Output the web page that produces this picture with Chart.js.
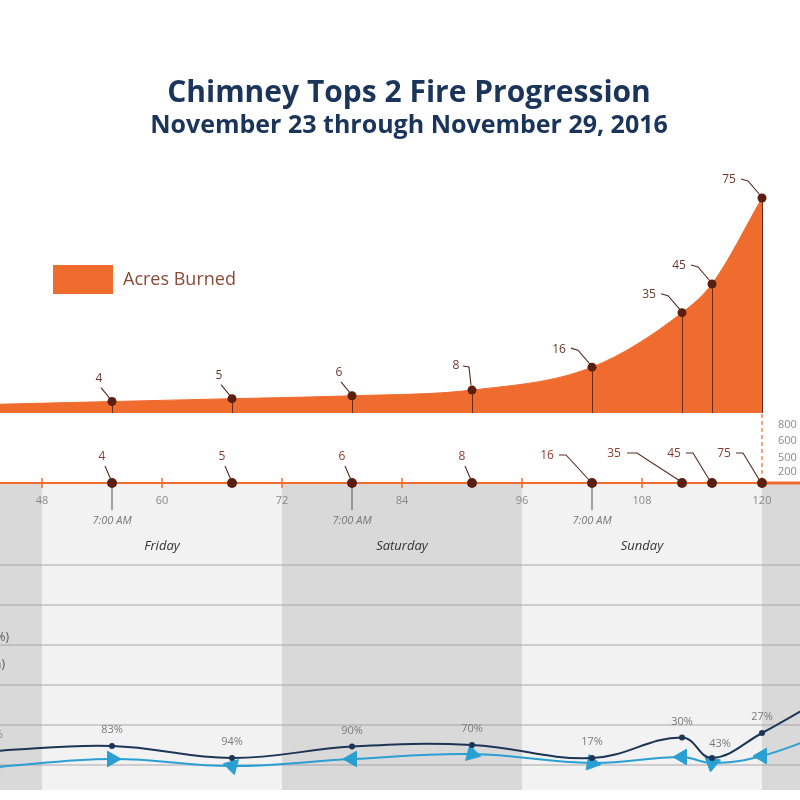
<!DOCTYPE html>
<html><head><meta charset="utf-8">
<script src="https://cdn.jsdelivr.net/npm/chart.js@4"></script>
<style>
html,body{margin:0;padding:0;background:#fff;}
#wrap{position:relative;width:800px;height:800px;overflow:hidden;}
#c{position:absolute;left:0;top:0;}
.t{position:absolute;left:0;width:818px;text-align:center;font-family:"Open Sans",sans-serif;font-weight:700;color:#1b355a;white-space:nowrap;line-height:1;}
</style></head><body>
<div id="wrap">
<canvas id="c" width="800" height="800"></canvas>
<div class="t" style="top:76px;font-size:30px">Chimney Tops 2 Fire Progression</div>
<div class="t" style="top:111px;font-size:25px">November 23 through November 29, 2016</div>
</div>
<script>
// ---- data ----
const fireHours   = [43, 55, 67, 79, 91, 103, 112, 115, 120];
const acresBurned = [3, 4, 5, 6, 8, 16, 35, 45, 75];
const sevenAmHours = [55, 79, 103];
const hourTicks = [48, 60, 72, 84, 96, 108, 120];
const dayBands = [24, 48, 72, 96, 120, 144];
const dayNames = ['Thursday', 'Friday', 'Saturday', 'Sunday', 'Monday'];
const weatherHours = [43, 55, 67, 79, 91, 103, 112, 115, 120, 127];
const upperLine = [13.5, 14.75, 11.75, 14.6, 15, 11.75, 16.9, 11.75, 18, 28];
const lowerLine = [9.4, 11.5, 9.75, 11.5, 12.75, 10.5, 12, 10.5, 12.25, 18.5];
const humidityLabels = ['65%', '83%', '94%', '90%', '70%', '17%', '30%', '43%', '27%', ''];
const windDirection = [90, 90, 165, 270, 105, 100, 270, 190, 270, 270];
const gridValues = [10, 20, 30, 40, 50, 60];
const rightAxisLabels = ['800', '600', '500', '200'];
const sideLabels = ['Relative Humidity (%)', 'Wind Speed (mph)'];

const ORANGE = '#ef6c2e';
const DOT = '#5a1f10';
const FONT = '"Open Sans", sans-serif';

const overlay = {
  id: 'overlay',
  beforeDatasetsDraw(chart) {
    const {ctx} = chart;
    const x = chart.scales.x, yT = chart.scales.yT, yB = chart.scales.yB, yA = chart.scales.yA;
    const tl = yT.getPixelForValue(0);
    ctx.save();
    // day bands
    for (let i = 0; i < dayBands.length - 1; i++) {
      const x0 = x.getPixelForValue(dayBands[i]), x1 = x.getPixelForValue(dayBands[i+1]);
      ctx.fillStyle = i % 2 === 0 ? '#d9d9d9' : '#f2f2f2';
      ctx.fillRect(x0, tl, x1 - x0, 790 - tl);
    }
    // grid lines
    ctx.strokeStyle = 'rgba(160,160,160,0.45)';
    ctx.lineWidth = 2;
    gridValues.forEach(v => {
      const y = Math.round(yB.getPixelForValue(v));
      ctx.beginPath(); ctx.moveTo(0, y); ctx.lineTo(800, y); ctx.stroke();
    });
    // day names
    ctx.fillStyle = '#333';
    ctx.font = 'italic 13px ' + FONT;
    ctx.textAlign = 'center'; ctx.textBaseline = 'middle';
    for (let i = 0; i < dayNames.length; i++) {
      const xc = x.getPixelForValue((dayBands[i] + dayBands[i+1]) / 2);
      ctx.fillText(dayNames[i], xc, 546);
    }
    // side labels (cut off)
    ctx.fillStyle = '#555'; ctx.font = '12px ' + FONT; ctx.textAlign = 'right';
    ctx.fillText(sideLabels[0], 9, 638);
    ctx.fillText(sideLabels[1], 5, 665);
    // timeline
    const xEnd = x.getPixelForValue(120);
    ctx.strokeStyle = ORANGE;
    ctx.lineWidth = 2;
    ctx.beginPath(); ctx.moveTo(0, tl); ctx.lineTo(xEnd, tl); ctx.stroke();
    ctx.lineWidth = 3;
    ctx.beginPath(); ctx.moveTo(xEnd, tl); ctx.lineTo(800, tl); ctx.stroke();
    ctx.lineWidth = 1.5;
    ctx.fillStyle = '#8a8a8a'; ctx.font = '11px ' + FONT; ctx.textAlign = 'center';
    hourTicks.forEach(h => {
      const px = x.getPixelForValue(h);
      ctx.beginPath(); ctx.moveTo(px, tl - 5); ctx.lineTo(px, tl + 5); ctx.stroke();
      ctx.fillText(String(h), px, tl + 18);
    });
    // dashed vertical line at end
    ctx.setLineDash([4, 3]); ctx.lineWidth = 1.2;
    ctx.beginPath(); ctx.moveTo(xEnd, yA.getPixelForValue(0) + 1); ctx.lineTo(xEnd, tl); ctx.stroke();
    ctx.setLineDash([]);
    ctx.textAlign = 'left';
    [425, 441, 458, 472].forEach((yy, i) => ctx.fillText(rightAxisLabels[i], xEnd + 16, yy));
    // 7:00 AM marks
    ctx.strokeStyle = '#555'; ctx.lineWidth = 1;
    ctx.fillStyle = '#777'; ctx.font = 'italic 11px ' + FONT; ctx.textAlign = 'center';
    sevenAmHours.forEach(h => {
      const px = x.getPixelForValue(h);
      ctx.beginPath(); ctx.moveTo(px, tl); ctx.lineTo(px, tl + 27); ctx.stroke();
      ctx.fillText('7:00 AM', px, tl + 38);
    });
    // legend
    ctx.fillStyle = ORANGE; ctx.fillRect(53, 265, 60, 29);
    ctx.fillStyle = '#8a4a36'; ctx.font = '18px ' + FONT; ctx.textAlign = 'left';
    ctx.fillText('Acres Burned', 123, 280);
    ctx.restore();
  },
  afterDatasetsDraw(chart) {
    const {ctx} = chart;
    const yA = chart.scales.yA;
    const base = yA.getPixelForValue(0);
    ctx.save();
    // drop lines in the area
    const areaMeta = chart.getDatasetMeta(0);
    ctx.strokeStyle = '#6a2a18'; ctx.lineWidth = 1;
    areaMeta.data.forEach((p, i) => {
      if (i === 0) return;
      ctx.beginPath(); ctx.moveTo(Math.round(p.x) + 0.5, p.y + 4); ctx.lineTo(Math.round(p.x) + 0.5, base); ctx.stroke();
    });
    // labels with leaders
    const drawLeader = (p, txt, style, color) => {
      let lx, ly, pts;
      if (style === 's') { lx = -13; ly = -23; pts = [[-11, -14], [-2, -3]]; }
      else if (style === 'v') { lx = -16; ly = -24; pts = [[-9, -24], [-3, -23], [-1, -5]]; }
      else if (style === 'h') { lx = -33; ly = -18; pts = [[-21, -19], [-14, -17], [-2, -3]]; }
      else if (style === 'ts') { lx = -10; ly = -26; pts = [[-7, -17], [-1, -3]]; }
      else if (style === 'th') { lx = -38; ly = -29; pts = [[-26, -30], [-19, -30], [-2, -2]]; }
      else if (style === 'th2') { lx = -45; ly = -27; pts = [[-33, -28], [-26, -28], [-2, -2]]; }
      else if (style === 'tl') { lx = -68; ly = -29; pts = [[-55, -30], [-45, -30], [-2, -2]]; }
      ctx.strokeStyle = '#5a2a1f'; ctx.lineWidth = 1.1;
      ctx.beginPath();
      pts.forEach((q, k) => { const fx = p.x + q[0], fy = p.y + q[1]; k ? ctx.lineTo(fx, fy) : ctx.moveTo(fx, fy); });
      ctx.stroke();
      ctx.fillStyle = color; ctx.font = '12px ' + FONT; ctx.textAlign = 'center'; ctx.textBaseline = 'middle';
      ctx.fillText(txt, p.x + lx, p.y + ly);
    };
    const topStyles = ['s', 's', 's', 's', 'v', 'h', 'h', 'h', 'h'];
    areaMeta.data.forEach((p, i) => drawLeader(p, String(acresBurned[i]), topStyles[i], '#6b3a2c'));
    const tlMeta = chart.getDatasetMeta(1);
    const tlStyles = ['ts', 'ts', 'ts', 'ts', 'ts', 'th2', 'tl', 'th', 'th'];
    tlMeta.data.forEach((p, i) => drawLeader(p, String(acresBurned[i]), tlStyles[i], '#8e3b2b'));
    // humidity labels
    const upMeta = chart.getDatasetMeta(2);
    ctx.fillStyle = '#7a7a7a'; ctx.font = '11px ' + FONT; ctx.textAlign = 'center'; ctx.textBaseline = 'middle';
    upMeta.data.forEach((p, i) => {
      const dx = humidityLabels[i] === '43%' ? 8 : 0;
      ctx.fillText(humidityLabels[i], p.x + dx, p.y - (dx ? 14 : 16));
    });
    ctx.restore();
  }
};

new Chart(document.getElementById('c'), {
  type: 'line',
  data: {
    datasets: [
      {
        label: 'Acres Burned', yAxisID: 'yA',
        data: fireHours.map((h, i) => ({x: h, y: acresBurned[i]})),
        fill: 'origin', backgroundColor: ORANGE, borderColor: ORANGE, borderWidth: 1,
        cubicInterpolationMode: 'monotone',
        pointRadius: 4.5, pointBackgroundColor: DOT, pointBorderWidth: 0, order: 3
      },
      {
        label: 'Timeline', yAxisID: 'yT',
        data: fireHours.map(h => ({x: h, y: 0})),
        showLine: false, pointRadius: 5, pointBackgroundColor: DOT, pointBorderWidth: 0, order: 0
      },
      {
        label: 'Upper', yAxisID: 'yB',
        data: weatherHours.map((h, i) => ({x: h, y: upperLine[i]})),
        borderColor: '#1c3556', borderWidth: 2, tension: 0.4, fill: false,
        pointRadius: 3, pointBackgroundColor: '#1c3556', pointBorderWidth: 0, order: 1
      },
      {
        label: 'Lower', yAxisID: 'yB',
        data: weatherHours.map((h, i) => ({x: h, y: lowerLine[i]})),
        borderColor: '#2a9fd1', borderWidth: 2, tension: 0.4, fill: false,
        pointStyle: 'triangle', pointRotation: windDirection, pointRadius: 9,
        pointBackgroundColor: '#2a9fd1', pointBorderColor: '#2a9fd1', pointBorderWidth: 1, order: 2
      }
    ]
  },
  options: {
    responsive: false, animation: false,
    layout: {padding: 0, autoPadding: false},
    plugins: {legend: {display: false}, title: {display: false}, tooltip: {enabled: false}},
    scales: {
      x: {type: 'linear', min: 43.8, max: 123.8, display: false},
      yA: {type: 'linear', min: -135, max: 144.07, display: false},
      yT: {type: 'linear', min: -0.39625, max: 0.60375, display: false},
      yB: {type: 'linear', min: 1.25, max: 201.25, display: false}
    }
  },
  plugins: [overlay]
});
</script>
</body></html>
